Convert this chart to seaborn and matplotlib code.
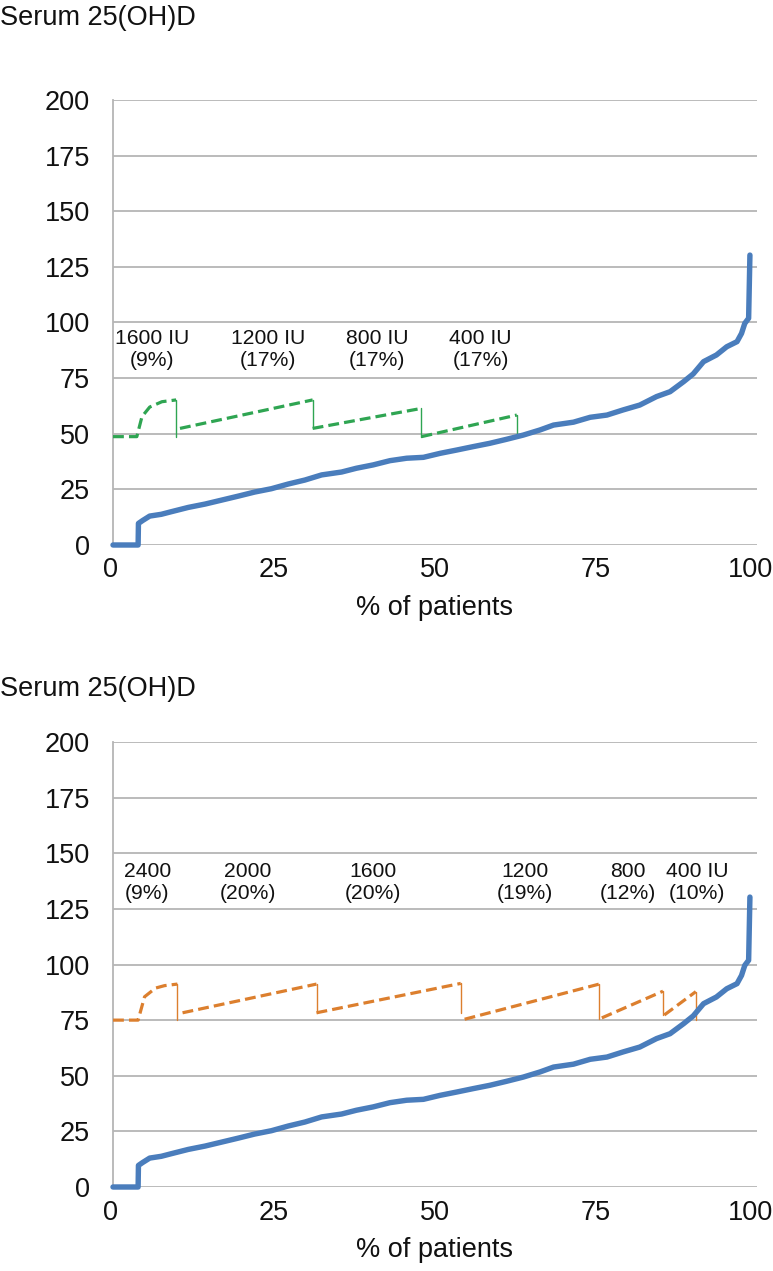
import matplotlib
matplotlib.use("Agg")
import matplotlib.pyplot as plt
import matplotlib.transforms as mtransforms
import seaborn as sns
import pandas as pd

# ---------------- data ----------------
# cumulative distribution of serum 25(OH)D (x = % of patients, y = level)
pct_patients = [0, 3.9, 3.95, 4.6, 5.7, 7.5, 9.1, 11.7, 14.3, 16.9, 19.5, 22.0, 24.6,
                27.2, 29.8, 32.4, 35.5, 37.8, 40.4, 43.0, 45.6, 48.2, 50.8, 53.4,
                55.9, 58.5, 61.1, 63.7, 66.3, 68.4, 71.5, 74.1, 76.7, 79.2, 81.8,
                84.4, 86.5, 88.6, 90.1, 91.7, 93.7, 95.3, 96.9, 97.6, 98.1, 98.7, 98.9]
serum_level = [0, 0, 9.7, 11.0, 13.0, 13.8, 15.0, 16.9, 18.4, 20.2, 22.0, 23.8, 25.3,
               27.4, 29.2, 31.5, 32.8, 34.5, 36.0, 37.9, 39.0, 39.4, 41.2, 42.7,
               44.2, 45.7, 47.5, 49.4, 51.7, 53.9, 55.2, 57.4, 58.4, 60.7, 62.9,
               66.7, 68.9, 73.4, 76.9, 82.4, 85.4, 89.1, 91.4, 95.1, 99.6, 101.9, 130.3]

# top panel: predicted levels with dosing scheme 1 (green)
green_seg_x = [[0, 3.7, 4.5, 5.7, 7.6, 9.8], [10.4, 31.0], [31.0, 47.9], [47.9, 62.7]]
green_seg_y = [[48.7, 48.7, 57.7, 62.0, 64.4, 65.2], [52.4, 65.2], [52.4, 61.4], [48.7, 58.4]]
green_drop_x = [9.8, 31.0, 47.9, 62.7]
green_drop_top = [65.2, 65.2, 61.4, 58.4]
green_drop_bottom = [48.7, 52.4, 48.7, 48.7]
green_labels = ["1600 IU\n(9%)", "1200 IU\n(17%)", "800 IU\n(17%)", "400 IU\n(17%)"]
green_label_x = [6.1, 24.1, 41.0, 57.1]
green_label_y = 88

# bottom panel: predicted levels with dosing scheme 2 (orange)
orange_seg_x = [[0, 3.9, 4.9, 6.6, 8.0, 10.0], [10.8, 31.6], [31.6, 54.0],
                [54.6, 75.5], [75.9, 85.4], [85.6, 90.5]]
orange_seg_y = [[75, 75, 85.5, 89.4, 90.5, 91.2], [78.3, 91.2], [78.3, 91.5],
                [75.4, 91.2], [76.0, 88.0], [77.3, 87.8]]
orange_drop_x = [10.0, 31.6, 54.0, 75.5, 85.4, 90.5]
orange_drop_top = [91.2, 91.2, 91.5, 91.2, 88.0, 87.8]
orange_drop_bottom = [75.0, 78.3, 78.0, 75.4, 77.3, 75.0]
orange_labels = ["2400\n(9%)", "2000\n(20%)", "1600\n(20%)", "1200\n(19%)",
                 "800\n(12%)", "400 IU\n(10%)"]
orange_label_x = [5.3, 20.9, 40.4, 64.0, 80.0, 90.7]
orange_label_y = 137

x_ticks = [0, 25, 50, 75, 100]
y_ticks = [0, 25, 50, 75, 100, 125, 150, 175, 200]
title_text = "Serum 25(OH)D"
xlabel_text = "% of patients"

# ---------------- style ----------------
sns.set_style("white")
plt.rcParams['font.family'] = ['Liberation Sans', 'DejaVu Sans']

BLUE = "#4a7dbc"
GREEN = "#2fa552"
ORANGE = "#dc7f2e"
GRID = "#b5b5b5"

fig = plt.figure(figsize=(7.73, 12.71), dpi=100)
left = 113 / 773
width = (757 - 113) / 773
h = 445 / 1271
ax_top = fig.add_axes([left, 1 - 545 / 1271, width, h])
ax_bot = fig.add_axes([left, 1 - 1187 / 1271, width, h])

curve_df = pd.DataFrame({"pct": pct_patients, "level": serum_level})


def draw_panel(ax, seg_x, seg_y, drop_x, drop_top, drop_bottom, color,
               labels, label_x, label_y):
    # dose-scheme dashed segments
    for sx, sy in zip(seg_x, seg_y):
        d = pd.DataFrame({"x": sx, "y": sy})
        sns.lineplot(data=d, x="x", y="y", ax=ax, color=color, lw=2.3,
                     sort=False, estimator=None, clip_on=False, zorder=3,
                     dashes=False, linestyle=(0, (3.4, 1.6)))
    # thin solid drops
    for dx, dt, db in zip(drop_x, drop_top, drop_bottom):
        d = pd.DataFrame({"x": [dx, dx], "y": [dt, db]})
        sns.lineplot(data=d, x="x", y="y", ax=ax, color=color, lw=1.0,
                     sort=False, estimator=None, zorder=3)
    # cumulative distribution curve
    sns.lineplot(data=curve_df, x="pct", y="level", ax=ax, color=BLUE, lw=3.9,
                 sort=False, estimator=None, clip_on=False, zorder=4)
    for t, lx in zip(labels, label_x):
        ax.text(lx, label_y, t, ha="center", va="center", fontsize=15.2,
                linespacing=1.2, color="#111111")

    ax.set_xlim(0, 100)
    ax.set_ylim(0, 200)
    ax.set_xticks(x_ticks)
    ax.set_yticks(y_ticks)
    ax.set_xticklabels([str(v) for v in x_ticks])
    ax.set_yticklabels([str(v) for v in y_ticks])
    ax.grid(axis="y", color=GRID, lw=1.3)
    ax.grid(axis="x", visible=False)
    ax.set_axisbelow(True)
    for s in ["top", "right", "bottom"]:
        ax.spines[s].set_visible(False)
    ax.spines["left"].set_color(GRID)
    ax.spines["left"].set_linewidth(1.3)
    ax.tick_params(axis="y", length=7.5, width=1.3, color=GRID, pad=9,
                   labelsize=19.5, labelcolor="#111111")
    ax.tick_params(axis="x", length=0, pad=9, labelsize=19.5, labelcolor="#111111")
    ax.set_xlabel(xlabel_text, fontsize=19.5, labelpad=8, color="#111111")
    ax.set_ylabel("")
    # nudge first/last x tick label to stay inside the figure like the reference
    lbls = ax.get_xticklabels()
    lbls[-1].set_transform(lbls[-1].get_transform() +
                           mtransforms.ScaledTranslation(-7 / 100, 0, fig.dpi_scale_trans))
    lbls[0].set_transform(lbls[0].get_transform() +
                          mtransforms.ScaledTranslation(-2 / 100, 0, fig.dpi_scale_trans))


draw_panel(ax_top, green_seg_x, green_seg_y, green_drop_x, green_drop_top,
           green_drop_bottom, GREEN, green_labels, green_label_x, green_label_y)
draw_panel(ax_bot, orange_seg_x, orange_seg_y, orange_drop_x, orange_drop_top,
           orange_drop_bottom, ORANGE, orange_labels, orange_label_x, orange_label_y)

fig.text(0.0, 1 - 18 / 1271, title_text, ha="left", va="center", fontsize=19.5,
         color="#111111")
fig.text(0.0, 1 - 689 / 1271, title_text, ha="left", va="center", fontsize=19.5,
         color="#111111")

fig.savefig("out.png", dpi=100)
